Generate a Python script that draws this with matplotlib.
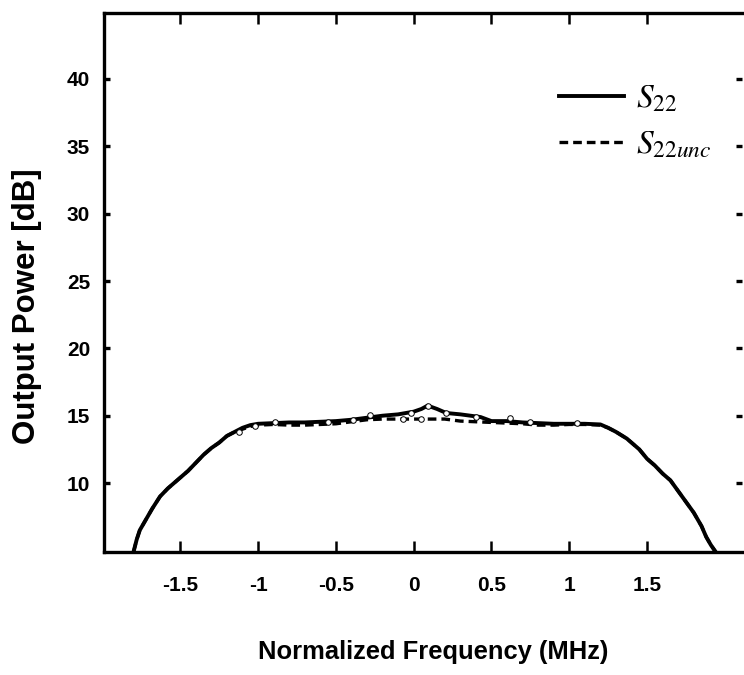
import matplotlib
matplotlib.use("Agg")
import matplotlib.pyplot as plt

plt.rcParams['font.family'] = ['Liberation Sans', 'DejaVu Sans']
plt.rcParams['mathtext.fontset'] = 'stix'

# Solid curve S22
s22_x = [-1.80, -1.78, -1.76, -1.72, -1.68, -1.63, -1.58, -1.53, -1.50, -1.45, -1.40, -1.35, -1.30,
         -1.25, -1.20, -1.15, -1.10, -1.05, -1.00, -0.90, -0.80, -0.70, -0.60, -0.50, -0.40, -0.30,
         -0.20, -0.10, 0.00, 0.05, 0.09, 0.15, 0.21, 0.30, 0.43, 0.50, 0.60, 0.70, 0.80, 0.90, 1.00,
         1.10, 1.20, 1.25, 1.30, 1.37, 1.40, 1.45, 1.50, 1.55, 1.60, 1.65, 1.70, 1.75, 1.80, 1.85,
         1.88, 1.91, 1.94]
s22_y = [4.9, 5.8, 6.5, 7.3, 8.1, 9.0, 9.6, 10.1, 10.4, 10.9, 11.5, 12.1, 12.6,
         13.0, 13.5, 13.8, 14.1, 14.3, 14.4, 14.45, 14.5, 14.5, 14.55, 14.6, 14.7, 14.85,
         15.0, 15.1, 15.3, 15.5, 15.75, 15.5, 15.2, 15.1, 14.9, 14.6, 14.6, 14.5, 14.45, 14.4, 14.4,
         14.4, 14.35, 14.1, 13.8, 13.3, 13.0, 12.5, 11.8, 11.3, 10.7, 10.2, 9.4, 8.6, 7.8, 6.8,
         6.0, 5.4, 4.9]

# Dashed curve S22unc
unc_x = [-1.80, -1.78, -1.76, -1.72, -1.68, -1.63, -1.58, -1.53, -1.50, -1.45, -1.40, -1.35, -1.30,
         -1.25, -1.20, -1.15, -1.10, -1.05, -1.00, -0.90, -0.80, -0.70, -0.60, -0.50, -0.40, -0.30,
         -0.20, -0.10, 0.00, 0.10, 0.20, 0.30, 0.40, 0.50, 0.60, 0.70, 0.80, 0.90, 1.00,
         1.10, 1.20, 1.25, 1.30, 1.37, 1.40, 1.45, 1.50, 1.55, 1.60, 1.65, 1.70, 1.75, 1.80, 1.85,
         1.88, 1.91, 1.94]
unc_y = [4.9, 5.8, 6.5, 7.3, 8.1, 9.0, 9.6, 10.1, 10.4, 10.9, 11.5, 12.1, 12.6,
         13.0, 13.5, 13.8, 14.0, 14.2, 14.3, 14.35, 14.3, 14.3, 14.35, 14.4, 14.55, 14.7,
         14.75, 14.75, 14.75, 14.75, 14.75, 14.6, 14.55, 14.5, 14.45, 14.4, 14.3, 14.3, 14.35,
         14.35, 14.3, 14.1, 13.8, 13.3, 13.0, 12.5, 11.8, 11.3, 10.7, 10.2, 9.4, 8.6, 7.8, 6.8,
         6.0, 5.4, 4.9]

# Sparse open-circle samples
pts_x = [-1.12, -1.02, -0.89, -0.55, -0.39, -0.28, -0.07, -0.02, 0.05, 0.09, 0.21, 0.40, 0.62, 0.75, 1.05]
pts_y = [13.8, 14.2, 14.5, 14.5, 14.7, 15.05, 14.75, 15.2, 14.75, 15.7, 15.2, 14.9, 14.8, 14.5, 14.45]

xticks = [-1.5, -1, -0.5, 0, 0.5, 1, 1.5]
xtick_labels = ['-1.5', '-1', '-0.5', '0', '0.5', '1', '1.5']
yticks = [10, 15, 20, 25, 30, 35, 40]

fig = plt.figure(figsize=(7.44, 6.75), dpi=100)
ax = fig.add_axes([104/744, 1-552/675, 638/744, 539/675])

ax.plot(s22_x, s22_y, color='black', lw=2.8, label=r'$S_{22}$', zorder=3)
ax.plot(unc_x, unc_y, color='black', lw=2.4, ls=(0, (2.6, 1.5)), label=r'$S_{22unc}$', zorder=2)
ax.plot(pts_x, pts_y, ls='none', marker='o', ms=4, mfc='white', mec='black', mew=0.7, zorder=4)

ax.set_xlim(-1.99, 2.11)
ax.set_ylim(4.88, 44.9)
ax.set_xticks(xticks)
ax.set_xticklabels(xtick_labels)
ax.set_yticks(yticks)

for s in ['left', 'bottom', 'top']:
    ax.spines[s].set_linewidth(2.4)
ax.spines['right'].set_visible(False)

ax.tick_params(axis='x', which='both', direction='in', length=8, width=1.8, top=True,
               pad=17, labelsize=15)
ax.tick_params(axis='y', which='both', direction='in', length=4, width=2.4, right=True,
               pad=10, labelsize=15)
for lab in ax.get_xticklabels() + ax.get_yticklabels():
    lab.set_fontweight('bold')

fig.text(433/744, 1-652/675, 'Normalized Frequency (MHz)', ha='center', va='center',
         fontsize=18.4, fontweight='bold')
fig.text(27/744, 1-306/675, 'Output Power [dB]', ha='center', va='center', rotation=90,
         fontsize=22.5, fontweight='bold')

leg = ax.legend(loc='upper left', bbox_to_anchor=(0.666, 0.925), frameon=False, fontsize=24,
                handlelength=1.95, handletextpad=0.35, labelspacing=0.45)

fig.savefig('out.png', dpi=100)
